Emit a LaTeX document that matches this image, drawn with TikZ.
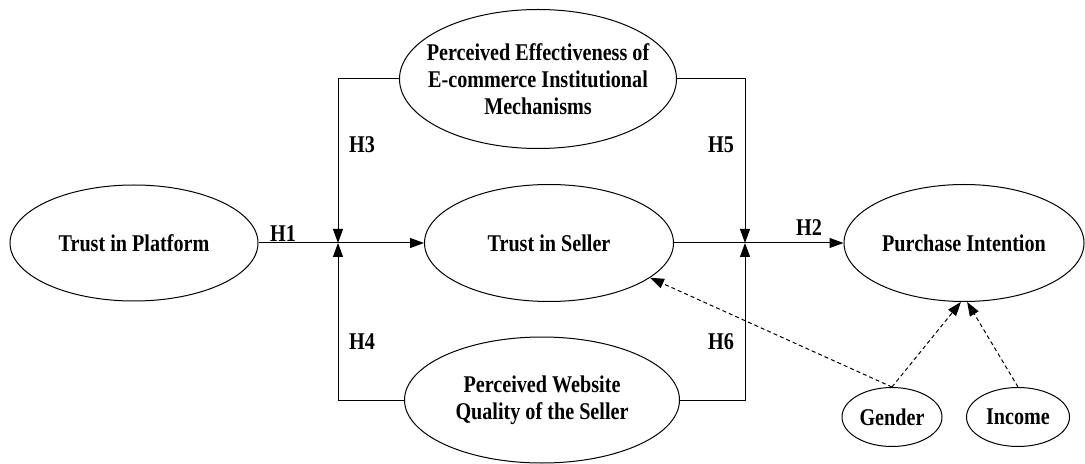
\documentclass[tikz,border=0pt]{standalone}
\usepackage{fontspec}
\setmainfont{Liberation Serif}[FakeStretch=0.84]
\usepackage{tikz}
\usetikzlibrary{shapes}
\usetikzlibrary{arrows.meta}
\usetikzlibrary{positioning}

\begin{document}
\begin{tikzpicture}[x=0.5pt,y=-0.5pt,line width=0.5pt,font=\bfseries\fontsize{12}{13.5}\selectfont]
\tikzset{
    construct/.style = {ellipse, draw=black, align=center, inner sep=0pt},
    hyp/.style       = {inner sep=0pt},
    link/.style      = {-{Triangle[length=7pt,width=5pt]}},
    ctrl/.style      = {dash pattern=on 2pt off 1.5pt, -{Triangle[length=7pt,width=5pt]}}
}
\useasboundingbox (0,0) rectangle (1085,464);
% constructs
\node [construct, minimum width=124pt, minimum height=58pt] (tp) at (134,243) {Trust in Platform};
\node [construct, minimum width=124.5pt, minimum height=58.5pt] (ts) at (549,243) {Trust in Seller};
\node [construct, minimum width=120pt, minimum height=58.5pt] (pi) at (964,243) {Purchase Intention};
\node [construct, inner xsep=-12pt, minimum width=138.5pt, minimum height=69.5pt] (pe) at (538,79)
   {Perceived Effectiveness of\\E-commerce Institutional\\Mechanisms};
\node [construct, inner xsep=-8pt, minimum width=137.5pt, minimum height=63pt] (pw) at (542,400)
   {Perceived Website\\Quality of the Seller};
% controls
\node [construct, minimum width=50pt, minimum height=29.5pt] (gender) at (892,417) {Gender};
\node [construct, minimum width=51.5pt, minimum height=29.5pt] (income) at (1018,417) {Income};
% junctions
\coordinate (jl) at (338,243);
\coordinate (jr) at (745,243);
% paths
\draw [link] (tp.east) -- (ts.west);
\draw [link] (ts.east) -- (pi.west);
\draw [link] (pe.west) -| (jl);
\draw [link] (pw.west) -| (jl);
\draw [link] (pe.east) -| (jr);
\draw [link] (pw.east) -| (jr);
\draw [ctrl] (gender.north) -- (ts.-19.5);
\draw [ctrl] (gender.north) -- (pi.-93);
\draw [ctrl] (income.north) -- (pi.-87);
% hypotheses
\node [hyp] (h1) at (283,234) {H1};
\node [hyp] (h2) at (809,228) {H2};
\node [hyp] (h3) at (362,145) {H3};
\node [hyp] (h4) at (362,342) {H4};
\node [hyp] (h5) at (721,145) {H5};
\node [hyp] (h6) at (721,342) {H6};
\end{tikzpicture}
\end{document}
